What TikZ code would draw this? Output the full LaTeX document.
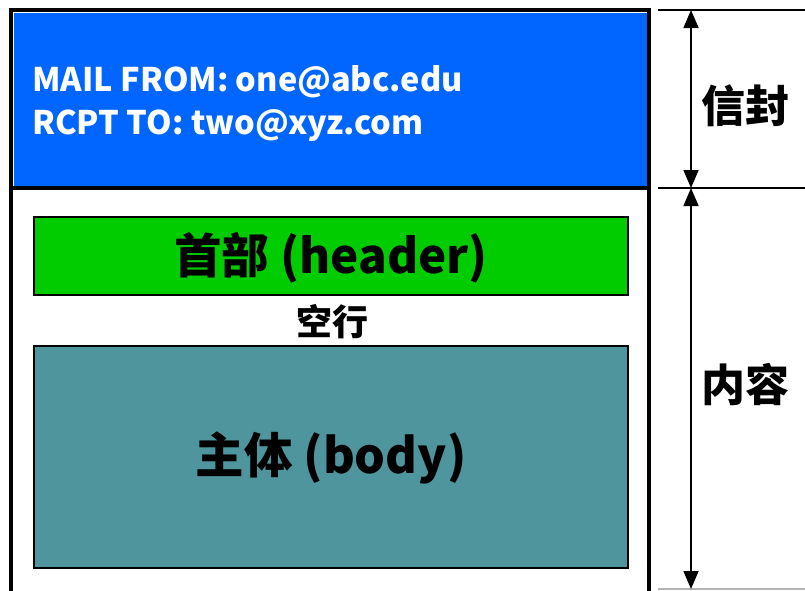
\documentclass[tikz,border=0pt]{standalone}
\usepackage{fontspec}
\setmainfont{Noto Sans CJK SC}
\usetikzlibrary{arrows.meta}
\definecolor{envblue}{RGB}{0,102,255}
\definecolor{hdrgreen}{RGB}{0,204,0}
\definecolor{bodyteal}{RGB}{79,149,157}
\begin{document}
\begin{tikzpicture}[x=1pt,y=-1pt,
  box/.style={draw=black,line width=2pt,inner sep=0pt,anchor=north west},
  lbl/.style={font=\bfseries\fontsize{44}{48}\selectfont,inner sep=0pt},
  dim/.style={line width=1.6pt,{Triangle[width=15pt,length=18pt]}-{Triangle[width=15pt,length=18pt]}},
  tick/.style={line width=2pt}]
\useasboundingbox (0,0) rectangle (805,590);
% envelope
\node[box,draw=none,fill=envblue,minimum width=634pt,minimum height=176pt] (env) at (13,12) {};
\draw[line width=4pt] (11,592) -- (11,10) -- (648.5,10) -- (648.5,592);
\draw[line width=3.5pt] (11,188) -- (648.5,188);
\node[anchor=base west,inner sep=0pt,text=white,font=\bfseries\fontsize{32.5}{36}\selectfont] (mail) at (32,91) {MAIL FROM: one@abc.edu};
\node[anchor=base west,inner sep=0pt,text=white,font=\bfseries\fontsize{32.5}{36}\selectfont] (rcpt) at (32,134) {RCPT TO: two@xyz.com};
% header
\node[box,fill=hdrgreen,minimum width=594pt,minimum height=78pt] (hdr) at (33,216) {};
\node[lbl,font=\bfseries\fontsize{47.5}{50}\selectfont] at ([yshift=-2pt]hdr.center) {首部 (header)};
\node[inner sep=0pt,font=\bfseries\fontsize{36}{40}\selectfont] (blank) at (332,322) {空行};
% body
\node[box,fill=bodyteal,minimum width=594pt,minimum height=222pt] (bdy) at (33,345) {};
\node[lbl,font=\bfseries\fontsize{48.5}{52}\selectfont] at ([yshift=-1pt]bdy.center) {主体 (body)};
% right side
\coordinate (t0) at (691,10);
\coordinate (t1) at (691,188);
\coordinate (t2) at (691,589);
\draw[tick] (658,10) -- (805,10);
\draw[tick] (658,188) -- (805,188);
\draw[line width=1.5pt,black!30] (658,589) -- (805,589);
\draw[dim] (t0) -- (t1);
\draw[dim] (t1) -- (t2);
\node[lbl] (envl) at (745,106) {信封};
\node[lbl] (cont) at (745,385) {内容};
\end{tikzpicture}
\end{document}
